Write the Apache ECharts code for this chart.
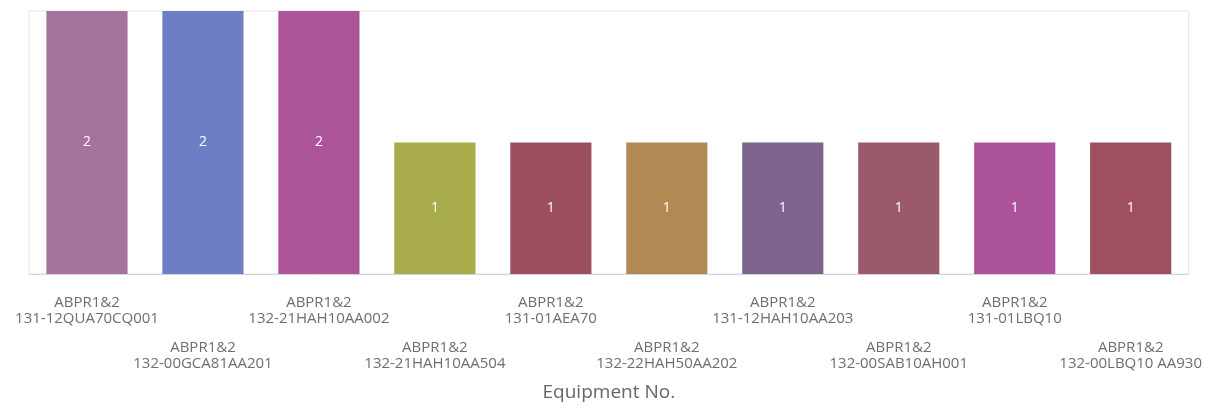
<!DOCTYPE html>
<html>
<head>
<meta charset="utf-8">
<script src="https://cdn.jsdelivr.net/npm/echarts@6/dist/echarts.min.js"></script>
<style>
  html, body { margin: 0; padding: 0; background: #fff; }
  #chart { width: 1205px; height: 415px; }
</style>
</head>
<body>
<div id="chart"></div>
<script>
const categories = [
  'ABPR1&2\n131-12QUA70CQ001',
  'ABPR1&2\n132-00GCA81AA201',
  'ABPR1&2\n132-21HAH10AA002',
  'ABPR1&2\n132-21HAH10AA504',
  'ABPR1&2\n131-01AEA70',
  'ABPR1&2\n132-22HAH50AA202',
  'ABPR1&2\n131-12HAH10AA203',
  'ABPR1&2\n132-00SAB10AH001',
  'ABPR1&2\n131-01LBQ10',
  'ABPR1&2\n132-00LBQ10 AA930'
];
const counts = [2, 2, 2, 1, 1, 1, 1, 1, 1, 1];
const barColors = ['#a5739c', '#6e7ec4', '#ab5598', '#a8ab4a', '#9e4f5f',
                   '#b08a52', '#7d6590', '#9a5a6c', '#ab529b', '#9f4f5f'];

const chart = echarts.init(document.getElementById('chart'));

// stagger: odd labels get a spacer line on top
const fmtLabel = (value, idx) => {
  const lines = value.split('\n').map(s => '{t|' + s + '}').join('\n');
  return idx % 2 ? '{gap| }\n' + lines : lines;
};

const option = {
  animation: false,
  grid: {
    left: 29,
    right: 16,
    top: 11,
    bottom: 141,
    show: true,
    borderColor: '#e6e6e6',
    borderWidth: 1
  },
  xAxis: {
    type: 'category',
    data: categories,
    name: 'Equipment No.',
    nameLocation: 'middle',
    nameGap: 109,
    nameTextStyle: { color: '#666', fontSize: 19, fontFamily: 'Open Sans' },
    axisLine: { lineStyle: { color: '#cfd4dc' } },
    axisTick: { show: false },
    axisLabel: {
      interval: 0,
      color: '#6e6e6e',
      fontSize: 15,
      lineHeight: 16,
      margin: 21,
      fontFamily: 'Open Sans',
      formatter: fmtLabel,
      rich: {
        t: { fontSize: 15, lineHeight: 16, color: '#6e6e6e', fontFamily: 'Open Sans' },
        gap: { fontSize: 10, lineHeight: 45 }
      }
    }
  },
  yAxis: {
    type: 'value',
    min: 0,
    max: 2,
    interval: 1,
    show: false,
    splitLine: { show: false }
  },
  series: [{
    type: 'bar',
    barWidth: '70%',
    data: counts.map((v, i) => ({ value: v, itemStyle: { color: barColors[i] } })),
    label: {
      show: true,
      position: 'inside',
      color: '#fff',
      fontSize: 14,
      fontFamily: 'Open Sans'
    }
  }]
};

chart.setOption(option);
</script>
</body>
</html>
